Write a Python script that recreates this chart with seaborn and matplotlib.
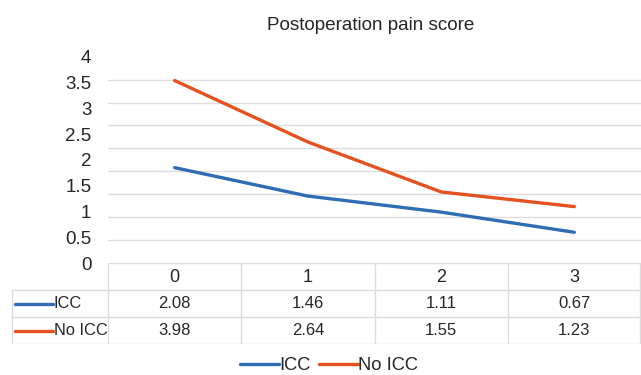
import numpy as np
import pandas as pd
import matplotlib
matplotlib.use("Agg")
import matplotlib.pyplot as plt
import seaborn as sns
from matplotlib.lines import Line2D

# ---- data ----
days = [0, 1, 2, 3]
icc = [2.08, 1.46, 1.11, 0.67]
no_icc = [3.98, 2.64, 1.55, 1.23]
series_names = ["ICC", "No ICC"]
ytick_labels = ["0", "0.5", "1", "1.5", "2", "2.5", "3", "3.5", "4"]
title = "Postoperation pain score"

colors = {"ICC": "#2E6DB4", "No ICC": "#E5521F"}
grid_c = "#DCDCDC"
text_c = "#262626"

sns.set_theme(style="white")
plt.rcParams["font.family"] = ["Liberation Sans", "DejaVu Sans"]

df = pd.DataFrame({
    "day": days * 2,
    "score": icc + no_icc,
    "group": ["ICC"] * len(days) + ["No ICC"] * len(days),
})

W, H = 641, 375
fig = plt.figure(figsize=(W / 100, H / 100), dpi=100)

def fx(px):
    return px / W

def fy(py):
    return 1 - py / H

# main axes: x 108..641, y 56.7..263
ax = fig.add_axes([fx(108), fy(263), fx(641) - fx(108), fy(56.7) - fy(263)])
sns.lineplot(data=df, x="day", y="score", hue="group", palette=colors,
             linewidth=2.4, ax=ax, legend=False, solid_capstyle="round")
ax.set_xlim(-0.5, 3.5)
ax.set_ylim(0, 4.5)
ax.set_xticks([])
ax.set_xlabel("")
ax.set_ylabel("")
ax.set_yticks(np.linspace(0, 4.5, len(ytick_labels)))
ax.set_yticklabels(ytick_labels, fontsize=13.5, color=text_c)
ax.set_yticks(np.arange(0, 4.51, 0.5), minor=True)
ax.tick_params(axis="y", which="both", length=0, pad=12)
ax.grid(False)
ax.grid(True, which="minor", axis="y", color=grid_c, linewidth=1)
for s in ax.spines.values():
    s.set_visible(False)
ax.set_title(title, fontsize=13.6, color=text_c, pad=19, x=0.4925)

# data table axes: x 11..641, y 263..344
colw = (641 - 108) / 4.0
left_units = (108 - 11) / colw
tax = fig.add_axes([fx(11), fy(344), fx(641) - fx(11), fy(263) - fy(344)])
tax.set_xlim(-0.5 - left_units, 3.5)
tax.set_ylim(3, 0)
tax.axis("off")
x0 = -0.5 - left_units
lw = 1.0
tax.hlines(0, -0.5, 3.5, color=grid_c, lw=lw)
tax.hlines([1, 2, 3], x0, 3.5, color=grid_c, lw=lw)
tax.vlines(-0.5, 0, 3, color=grid_c, lw=lw)
tax.vlines([0.5, 1.5, 2.5], 0, 3, color=grid_c, lw=lw)
tax.vlines(3.5 - 0.004, 0, 3, color=grid_c, lw=lw)
tax.vlines(x0 + 0.004, 1, 3, color=grid_c, lw=lw)
for d in days:
    tax.text(d, 0.55, str(d), ha="center", va="center", fontsize=13, color=text_c)
rows = [icc, no_icc]
for r, (name, vals) in enumerate(zip(series_names, rows)):
    yc = 1.5 + r
    for d, v in zip(days, vals):
        tax.text(d, yc, f"{v:.2f}", ha="center", va="center", fontsize=12, color=text_c)
    kx0 = x0 + 4 / colw
    kx1 = x0 + 42 / colw
    tax.plot([kx0, kx1], [yc, yc], color=colors[name], lw=2.4, solid_capstyle="round")
    tax.text(kx1 + 1 / colw, yc, name, ha="left", va="center", fontsize=11.8, color=text_c)

# bottom legend
handles = [Line2D([0], [0], color=colors[n], lw=2.4) for n in series_names]
fig.legend(handles, series_names, loc="center", bbox_to_anchor=(fx(329), fy(365.5)),
           ncol=2, frameon=False, fontsize=13.2, handlelength=2.15, handletextpad=0.0,
           columnspacing=0.45, labelcolor=text_c, borderpad=0.1)

fig.savefig("out.png", dpi=100)
